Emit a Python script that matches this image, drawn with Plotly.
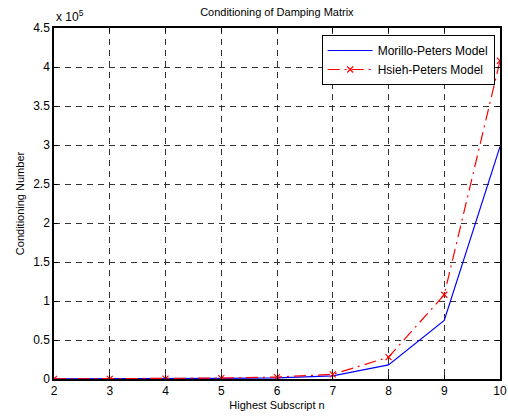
import plotly.graph_objects as go

n_values = [2, 3, 4, 5, 6, 7, 8, 9, 10]
morillo_peters = [100, 200, 400, 900, 1500, 4000, 18000, 75000, 298000]
hsieh_peters = [100, 200, 500, 1200, 2500, 6000, 28000, 108000, 408000]

y_tickvals = [0, 50000, 100000, 150000, 200000, 250000, 300000, 350000, 400000, 450000]
y_ticktext = ["0", "0.5", "1", "1.5", "2", "2.5", "3", "3.5", "4", "4.5"]
x_ticks = [2, 3, 4, 5, 6, 7, 8, 9, 10]

font_family = "Liberation Sans, Arial, sans-serif"

fig = go.Figure()
fig.add_trace(go.Scatter(
    x=n_values, y=morillo_peters, mode="lines", name="Morillo-Peters Model",
    line=dict(color="#0000ff", width=1.2),
))
fig.add_trace(go.Scatter(
    x=n_values, y=hsieh_peters, mode="lines+markers", name="Hsieh-Peters Model",
    line=dict(color="#ff0000", width=1.2, dash="12px,5px,2px,5px"),
    marker=dict(symbol="x-thin", size=6, color="#ff0000", line=dict(color="#ff0000", width=1.2)),
))

axis_common = dict(
    showline=True, linecolor="black", linewidth=1.5, mirror="ticks",
    ticks="inside", ticklen=4, tickcolor="black",
    showgrid=True, gridcolor="#333333", griddash="6px,5px", gridwidth=1,
    zeroline=False, automargin=False,
    tickfont=dict(size=12, color="black", family=font_family),
)

fig.update_layout(
    width=508, height=419,
    margin=dict(l=54, r=8, t=28, b=40),
    paper_bgcolor="white", plot_bgcolor="white",
    font=dict(family=font_family, color="black", size=11),
    title=dict(text="Conditioning of Damping Matrix", x=0.545, xanchor="center",
               y=0.972, yanchor="middle", font=dict(size=11, color="black")),
    xaxis=dict(range=[2, 10], tickvals=x_ticks,
               title=dict(text="Highest Subscript n", font=dict(size=11), standoff=4),
               **axis_common),
    yaxis=dict(range=[0, 450000], tickvals=y_tickvals, ticktext=y_ticktext,
               title=dict(text="Conditioning Number", font=dict(size=11), standoff=6),
               **axis_common),
    legend=dict(x=0.988, y=0.98, xanchor="right", yanchor="top",
                bgcolor="white", bordercolor="black", borderwidth=1,
                font=dict(size=12, color="black", family=font_family),
                itemwidth=45, tracegroupgap=0),
    showlegend=True,
)

fig.add_annotation(text="x 10<sup>5</sup>", xref="paper", yref="paper",
                   x=0.0, y=1.0, xanchor="left", yanchor="bottom", yshift=2,
                   showarrow=False, font=dict(size=12, color="black", family=font_family))

fig.write_html("out.html")
